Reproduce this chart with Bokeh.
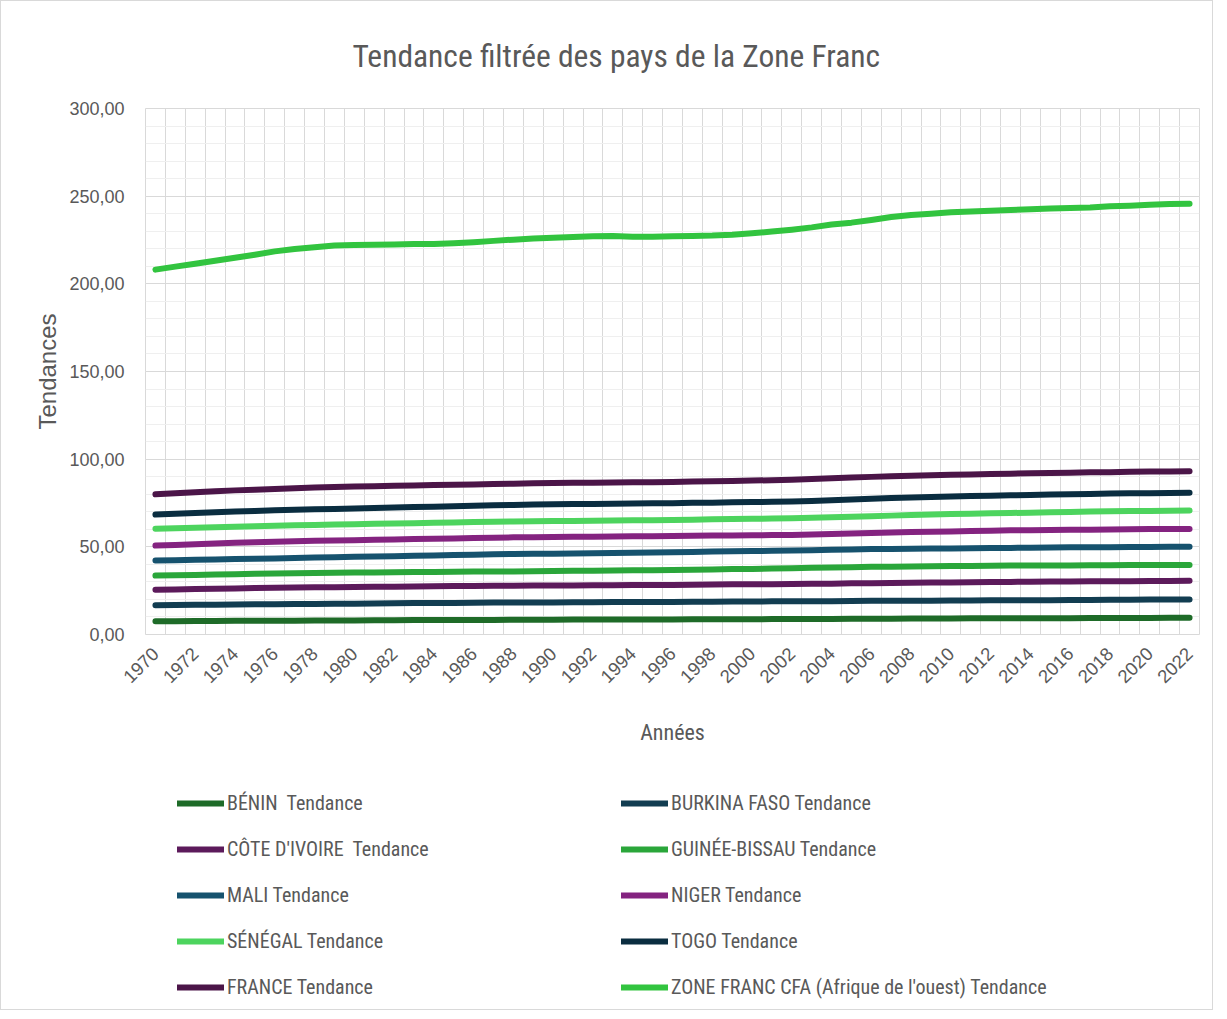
from bokeh.plotting import figure
from bokeh.models import (Range1d, FixedTicker, CustomJSTickFormatter, Legend, LegendItem)
from bokeh.layouts import column
from bokeh.embed import file_html
from bokeh.resources import INLINE
import math

years = list(range(1970, 2023))

benin = [7.6, 7.6, 7.7, 7.7, 7.8, 7.8, 7.9, 7.9, 8.0, 8.0,
         8.0, 8.1, 8.1, 8.2, 8.2, 8.2, 8.3, 8.3, 8.4, 8.4,
         8.4, 8.5, 8.5, 8.5, 8.6, 8.6, 8.6, 8.7, 8.7, 8.7,
         8.7, 8.8, 8.8, 8.9, 8.9, 9.0, 9.0, 9.0, 9.1, 9.1,
         9.1, 9.2, 9.2, 9.2, 9.3, 9.3, 9.3, 9.4, 9.4, 9.4,
         9.4, 9.5, 9.5]
burkina = [16.7, 16.8, 16.9, 17.0, 17.1, 17.2, 17.3, 17.4, 17.4, 17.5,
           17.6, 17.7, 17.8, 17.9, 18.0, 18.0, 18.1, 18.2, 18.2, 18.3,
           18.3, 18.4, 18.4, 18.5, 18.5, 18.6, 18.6, 18.7, 18.7, 18.8,
           18.8, 18.9, 18.9, 19.0, 19.0, 19.1, 19.2, 19.2, 19.3, 19.3,
           19.4, 19.4, 19.5, 19.5, 19.6, 19.6, 19.7, 19.7, 19.8, 19.8,
           19.9, 19.9, 20.0]
cote_ivoire = [25.5, 25.7, 25.9, 26.1, 26.3, 26.5, 26.6, 26.8, 26.9, 27.0,
               27.1, 27.2, 27.3, 27.4, 27.5, 27.6, 27.7, 27.8, 27.8, 27.9,
               28.0, 28.0, 28.1, 28.1, 28.2, 28.2, 28.3, 28.4, 28.5, 28.6,
               28.6, 28.7, 28.8, 28.9, 29.0, 29.2, 29.3, 29.4, 29.5, 29.6,
               29.7, 29.8, 29.9, 30.0, 30.1, 30.2, 30.2, 30.3, 30.4, 30.4,
               30.5, 30.5, 30.6]
guinee_bissau = [33.6, 33.8, 34.0, 34.2, 34.4, 34.6, 34.8, 34.9, 35.1, 35.2,
                 35.3, 35.4, 35.5, 35.6, 35.7, 35.8, 35.9, 36.0, 36.0, 36.1,
                 36.2, 36.3, 36.4, 36.5, 36.6, 36.7, 36.8, 37.0, 37.1, 37.3,
                 37.4, 37.6, 37.8, 38.0, 38.2, 38.4, 38.6, 38.7, 38.8, 38.9,
                 39.0, 39.1, 39.2, 39.3, 39.3, 39.4, 39.4, 39.5, 39.5, 39.6,
                 39.6, 39.7, 39.7]
mali = [42.2, 42.4, 42.6, 42.8, 43.0, 43.2, 43.4, 43.6, 43.9, 44.1,
        44.3, 44.5, 44.7, 44.9, 45.1, 45.3, 45.5, 45.7, 45.9, 46.0,
        46.1, 46.2, 46.3, 46.5, 46.6, 46.7, 46.9, 47.1, 47.3, 47.5,
        47.6, 47.7, 47.9, 48.1, 48.3, 48.5, 48.7, 48.8, 48.9, 49.0,
        49.1, 49.2, 49.3, 49.4, 49.5, 49.6, 49.7, 49.8, 49.8, 49.9,
        49.9, 50.0, 50.0]
niger = [50.7, 51.1, 51.5, 51.9, 52.3, 52.6, 52.9, 53.2, 53.4, 53.6,
         53.8, 54.0, 54.2, 54.4, 54.6, 54.8, 55.0, 55.2, 55.4, 55.5,
         55.6, 55.7, 55.8, 55.9, 56.0, 56.1, 56.2, 56.3, 56.4, 56.5,
         56.6, 56.7, 56.8, 57.0, 57.3, 57.6, 57.9, 58.2, 58.4, 58.6,
         58.8, 59.0, 59.2, 59.4, 59.5, 59.6, 59.7, 59.8, 59.9, 60.0,
         60.1, 60.1, 60.2]
senegal = [60.3, 60.6, 60.9, 61.2, 61.5, 61.8, 62.0, 62.3, 62.5, 62.7,
           62.9, 63.1, 63.3, 63.5, 63.7, 63.9, 64.1, 64.3, 64.5, 64.6,
           64.7, 64.8, 64.9, 65.0, 65.1, 65.2, 65.3, 65.5, 65.7, 65.9,
           66.0, 66.1, 66.3, 66.6, 66.9, 67.2, 67.5, 67.8, 68.1, 68.4,
           68.7, 68.9, 69.1, 69.3, 69.5, 69.7, 69.9, 70.1, 70.3, 70.4,
           70.5, 70.6, 70.7]
togo = [68.4, 68.9, 69.3, 69.7, 70.1, 70.5, 70.8, 71.1, 71.4, 71.6,
        71.9, 72.2, 72.4, 72.7, 72.9, 73.2, 73.4, 73.7, 73.9, 74.1,
        74.3, 74.4, 74.5, 74.6, 74.7, 74.8, 74.9, 75.1, 75.2, 75.4,
        75.5, 75.7, 75.9, 76.2, 76.6, 77.0, 77.4, 77.8, 78.1, 78.4,
        78.7, 79.0, 79.2, 79.4, 79.6, 79.8, 80.0, 80.2, 80.4, 80.5,
        80.6, 80.7, 80.8]
france = [80.0, 80.6, 81.2, 81.7, 82.2, 82.6, 83.0, 83.4, 83.8, 84.1,
          84.4, 84.6, 84.8, 85.0, 85.2, 85.4, 85.6, 85.8, 86.0, 86.2,
          86.4, 86.5, 86.6, 86.7, 86.8, 86.9, 87.0, 87.2, 87.4, 87.6,
          87.8, 88.0, 88.3, 88.7, 89.1, 89.5, 89.9, 90.2, 90.5, 90.8,
          91.1, 91.3, 91.5, 91.7, 91.9, 92.1, 92.3, 92.5, 92.6, 92.8,
          92.9, 93.0, 93.1]
zone_franc = [208.1, 209.8, 211.5, 213.2, 214.9, 216.6, 218.5, 219.9, 220.8, 221.8,
              222.2, 222.3, 222.5, 222.7, 222.7, 223.1, 223.7, 224.5, 225.2, 225.8,
              226.3, 226.7, 227.1, 227.3, 226.9, 226.9, 227.1, 227.3, 227.5, 228.0,
              228.8, 229.8, 230.9, 232.2, 233.8, 234.9, 236.4, 238.1, 239.3, 240.0,
              240.8, 241.3, 241.7, 242.1, 242.5, 242.9, 243.3, 243.6, 244.2, 244.6,
              245.1, 245.5, 245.7]

labels = ["BÉNIN  Tendance", "BURKINA FASO Tendance", "CÔTE D'IVOIRE  Tendance",
          "GUINÉE-BISSAU Tendance", "MALI Tendance", "NIGER Tendance",
          "SÉNÉGAL Tendance", "TOGO Tendance", "FRANCE Tendance",
          "ZONE FRANC CFA (Afrique de l'ouest) Tendance"]
series = [benin, burkina, cote_ivoire, guinee_bissau, mali, niger,
          senegal, togo, france, zone_franc]
colors = ["#1E6B28", "#123D51", "#5C1A5B", "#2AA63A", "#16526E", "#842380",
          "#4DD45E", "#0A2D40", "#4B1548", "#32C43F"]

y_major = [0, 50, 100, 150, 200, 250, 300]
y_minor = list(range(0, 301, 10))

NARROW = "'Liberation Sans Narrow', 'Roboto Condensed', 'Liberation Sans'"
GREY = "#595959"
W = 1211
H_MAIN = 770
H_LEG = 238
LW = 6

p = figure(width=W, height=H_MAIN, output_backend="svg", toolbar_location=None,
           x_range=Range1d(1969.5, 2022.5), y_range=Range1d(0, 300),
           title="Tendance filtrée des pays de la Zone Franc",
           min_border_left=144, min_border_right=13, min_border_top=107,
           min_border_bottom=H_MAIN - 107 - 526)

p.title.align = "left"
p.title.offset = 207
p.title.text_font = NARROW
p.title.text_font_size = "31.5px"
p.title.text_font_style = "normal"
p.title.text_color = GREY
p.title.standoff = 67

p.outline_line_color = "#d9d9d9"
p.outline_line_width = 1

# axes
p.xaxis.ticker = FixedTicker(ticks=years[::2])
p.xaxis.major_label_orientation = math.pi / 4
p.xaxis.major_label_text_font_size = "18.5px"
p.xaxis.major_label_text_font = "Liberation Sans"
p.xaxis.major_label_text_color = GREY
p.xaxis.axis_label = "Années"
p.xaxis.axis_label_text_font = NARROW
p.xaxis.axis_label_text_font_size = "22px"
p.xaxis.axis_label_text_font_style = "normal"
p.xaxis.axis_label_text_color = GREY
p.xaxis.axis_label_standoff = 28
p.xaxis.major_label_standoff = 10

p.yaxis.ticker = FixedTicker(ticks=y_major, minor_ticks=y_minor)
p.yaxis.formatter = CustomJSTickFormatter(code="return tick.toFixed(2).replace('.', ',');")
p.yaxis.major_label_text_font_size = "18px"
p.yaxis.major_label_text_font = "Liberation Sans"
p.yaxis.major_label_text_color = GREY
p.yaxis.axis_label = "Tendances"
p.yaxis.axis_label_text_font = "Liberation Sans"
p.yaxis.axis_label_text_font_size = "24px"
p.yaxis.axis_label_text_font_style = "normal"
p.yaxis.axis_label_text_color = GREY
p.yaxis.major_label_standoff = 15
p.yaxis.axis_label_standoff = 5

for ax in (p.xaxis, p.yaxis):
    ax.axis_line_color = None
    ax.major_tick_line_color = None
    ax.minor_tick_line_color = None

# grids
p.xgrid.ticker = FixedTicker(ticks=[y - 0.5 for y in years] + [years[-1] + 0.5])
p.xgrid.grid_line_color = "#d9d9d9"
p.xgrid.grid_line_width = 1
p.ygrid.grid_line_color = "#d9d9d9"
p.ygrid.minor_grid_line_color = "#efefef"

for vals, col in zip(series, colors):
    p.line(years, vals, line_color=col, line_width=LW, line_cap="round",
           line_join="round")

# legend panel (separate figure below the chart; its ranges keep the lines out of view)
q = figure(width=W, height=H_LEG, output_backend="svg", toolbar_location=None,
           x_range=Range1d(0, 1), y_range=Range1d(0, 1),
           min_border=0, outline_line_color=None)
q.axis.visible = False
q.grid.visible = False
leg_renderers = [q.line(years, vals, line_color=col, line_width=LW, line_cap="round")
                 for vals, col in zip(series, colors)]

def make_legend(idx, loc):
    items = [LegendItem(label=labels[i], renderers=[leg_renderers[i]]) for i in idx]
    lg = Legend(items=items, location=loc, orientation="vertical")
    lg.label_text_font = NARROW
    lg.label_text_font_size = "20px"
    lg.label_text_color = GREY
    lg.glyph_width = 47
    lg.glyph_height = 20
    lg.label_height = 20
    lg.label_standoff = 3
    lg.spacing = 22
    lg.padding = 0
    lg.margin = 0
    lg.border_line_alpha = 0
    lg.background_fill_alpha = 0
    return lg

q.add_layout(make_legend([0, 2, 4, 6, 8], (32, 10)))
q.add_layout(make_legend([1, 3, 5, 7, 9], (476, 10)))

layout = column(p, q, spacing=0)
layout.styles = {"border": "1px solid #d9d9d9"}

open("out.html", "w").write(file_html(layout, INLINE))
